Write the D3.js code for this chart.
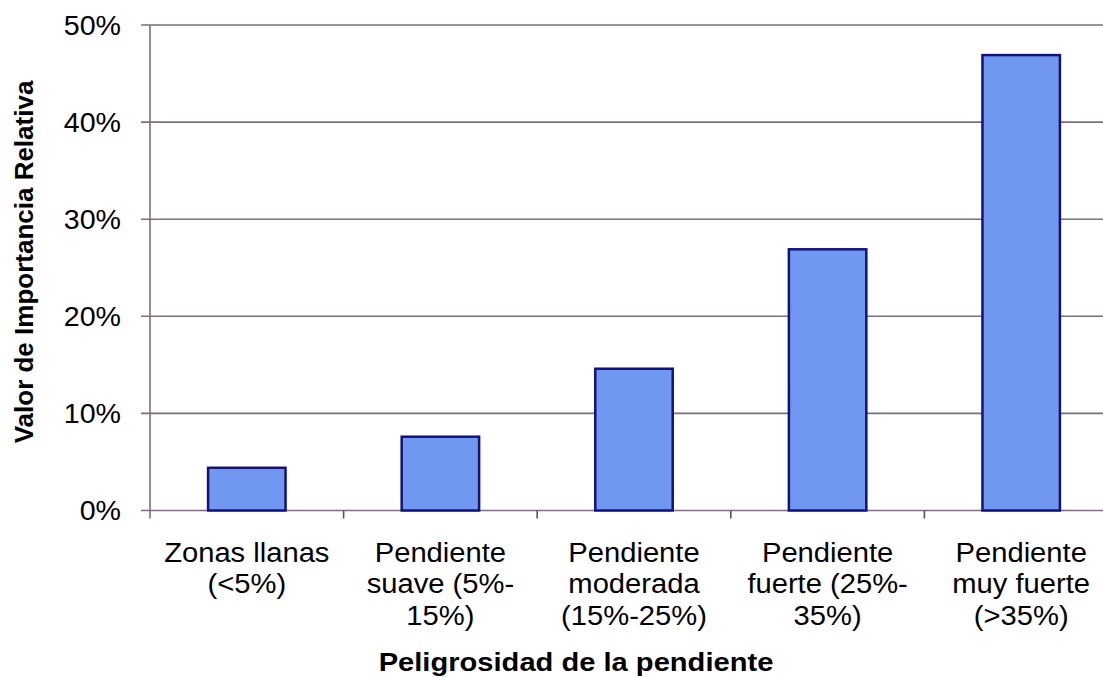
<!DOCTYPE html>
<html>
<head>
<meta charset="utf-8">
<script src="https://cdn.jsdelivr.net/npm/d3@7"></script>
<style>
  html, body { margin: 0; padding: 0; background: #ffffff; }
  svg { display: block; }
  text { font-family: "Liberation Sans", Arial, sans-serif; fill: #000; }
</style>
</head>
<body>
<svg id="chart" width="1103" height="677"></svg>
<script>
// ---- Data ----
const categories = [
  "Zonas llanas (<5%)",
  "Pendiente suave (5%-15%)",
  "Pendiente moderada (15%-25%)",
  "Pendiente fuerte (25%-35%)",
  "Pendiente muy fuerte (>35%)"
];
const categoryLines = [
  ["Zonas llanas", "(<5%)"],
  ["Pendiente", "suave (5%-", "15%)"],
  ["Pendiente", "moderada", "(15%-25%)"],
  ["Pendiente", "fuerte (25%-", "35%)"],
  ["Pendiente", "muy fuerte", "(>35%)"]
];
const values = [0.044, 0.076, 0.146, 0.269, 0.469];
const yTicks = [0, 0.1, 0.2, 0.3, 0.4, 0.5];
const xTitle = "Peligrosidad de la pendiente";
const yTitle = "Valor de Importancia Relativa";

// ---- Layout ----
const svg = d3.select("#chart");
const plotLeft = 150, plotRight = 1118, plotTop = 25, plotBottom = 510.5;

const x = d3.scaleBand().domain(categories).range([plotLeft, plotRight])
  .paddingInner(0.6).paddingOuter(0.3);
const y = d3.scaleLinear().domain([0, 0.5]).range([plotBottom, plotTop]);

const gridColor = "#7d6d7e";

// Gridlines
svg.append("g").selectAll("line").data(yTicks).join("line")
  .attr("x1", plotLeft - 9).attr("x2", 1103)
  .attr("y1", d => y(d)).attr("y2", d => y(d))
  .attr("stroke", gridColor).attr("stroke-width", 1.6);

// Bars
svg.append("g").selectAll("rect").data(values).join("rect")
  .attr("x", (d, i) => x(categories[i]))
  .attr("width", x.bandwidth())
  .attr("y", d => y(d))
  .attr("height", d => y(0) - y(d))
  .attr("fill", "#7098f0")
  .attr("stroke", "#12127a")
  .attr("stroke-width", 2.5);

// Y axis line
svg.append("line")
  .attr("x1", plotLeft).attr("x2", plotLeft)
  .attr("y1", plotTop).attr("y2", plotBottom + 8)
  .attr("stroke", gridColor).attr("stroke-width", 1.6);

// X axis ticks at category boundaries
const step = x.step();
const boundaries = d3.range(1, categories.length).map(i => x(categories[i]) - step * x.paddingInner() / 2);
svg.append("g").selectAll("line").data(boundaries).join("line")
  .attr("x1", d => d).attr("x2", d => d)
  .attr("y1", plotBottom).attr("y2", plotBottom + 8)
  .attr("stroke", "#555").attr("stroke-width", 1.6);

// Y tick labels
svg.append("g").selectAll("text").data(yTicks).join("text")
  .attr("transform", d => `translate(121,${y(d)}) scale(1.04,1)`)
  .attr("dy", "0.36em")
  .attr("text-anchor", "end")
  .style("font-size", "27.5px")
  .text(d => d3.format(".0%")(d));

// Category labels
const catG = svg.append("g").selectAll("text").data(categoryLines).join("text")
  .attr("text-anchor", "middle")
  .attr("transform", (d, i) => `translate(${x(categories[i]) + x.bandwidth() / 2},0) scale(1.08,1)`)
  .style("font-size", "27px");
catG.each(function(lines) {
  d3.select(this).selectAll("tspan").data(lines).join("tspan")
    .attr("x", 0)
    .attr("y", (d, j) => 562 + j * 31.5)
    .text(d => d);
});

// Axis titles
svg.append("text")
  .attr("transform", "translate(576,671) scale(1.12,1)")
  .attr("text-anchor", "middle")
  .style("font-size", "26px").style("font-weight", "bold")
  .text(xTitle);

svg.append("text")
  .attr("transform", "translate(33,262) rotate(-90)")
  .attr("text-anchor", "middle")
  .style("font-size", "26px").style("font-weight", "bold")
  .text(yTitle);
</script>
</body>
</html>
